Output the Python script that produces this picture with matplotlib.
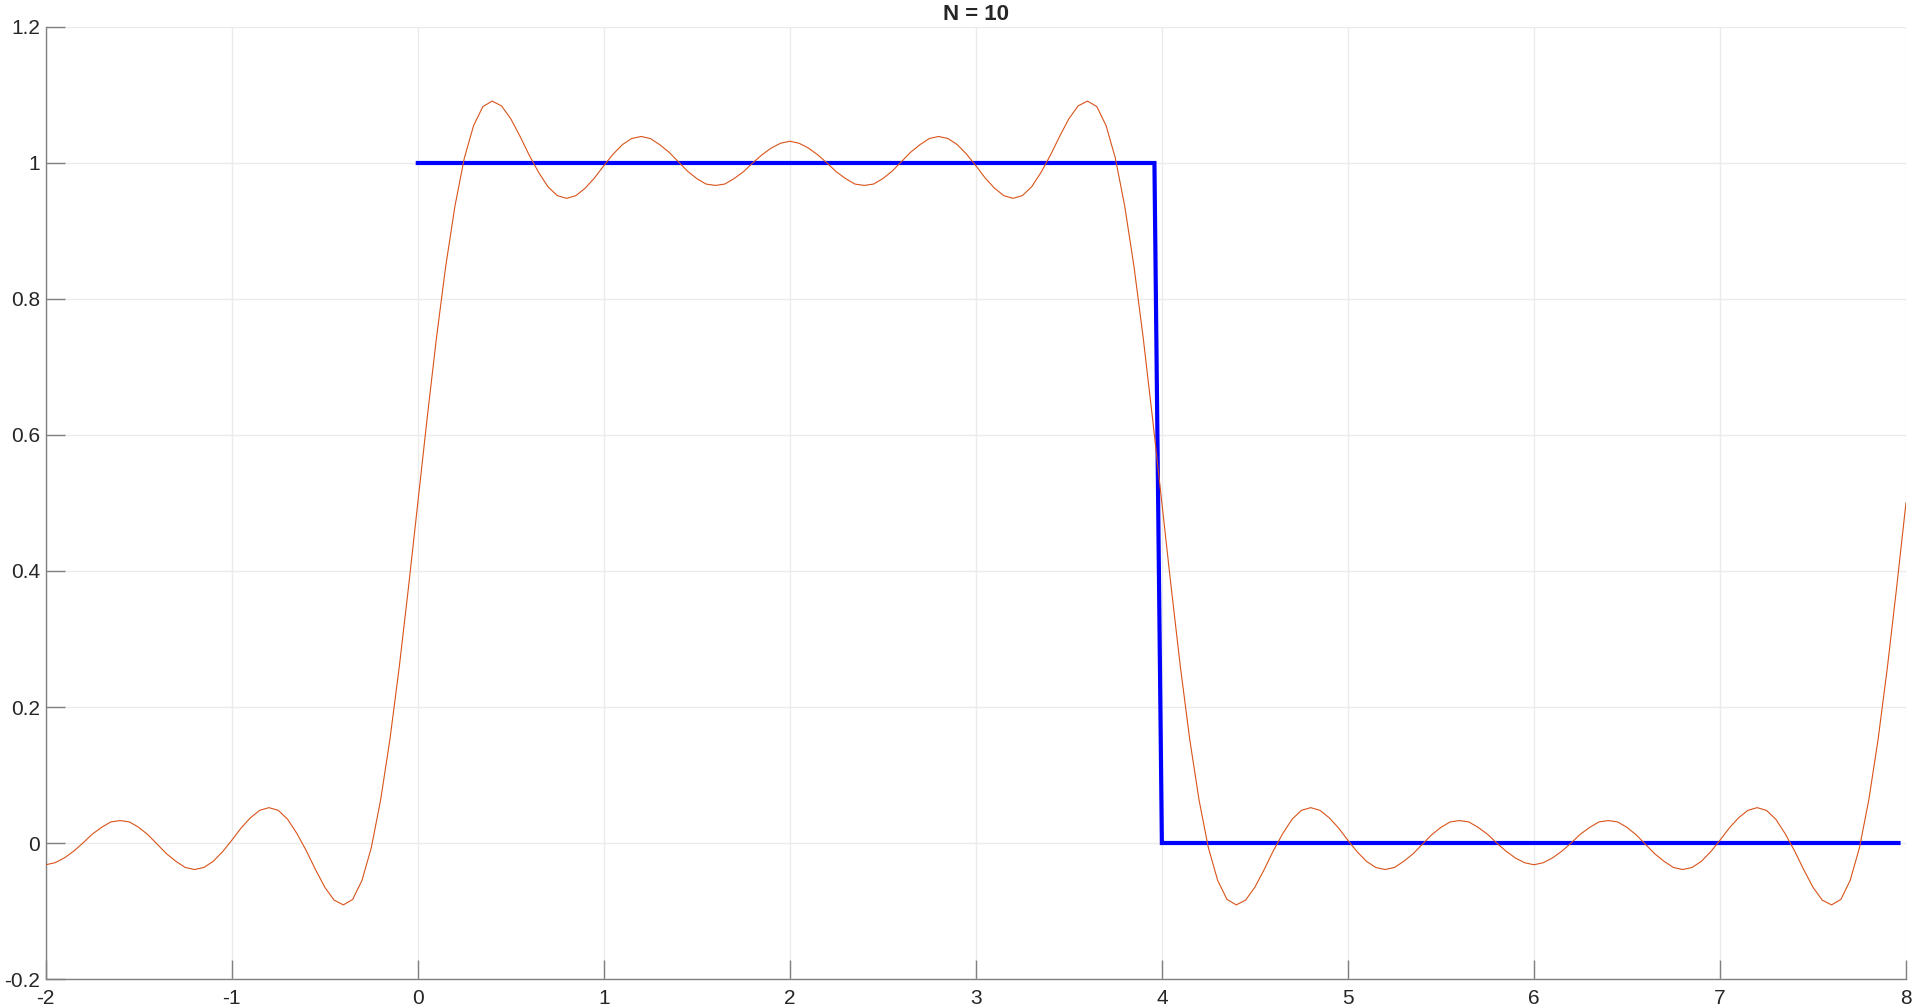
import numpy as np
import matplotlib
matplotlib.use("Agg")
import matplotlib.pyplot as plt

# ---- data ----
# square wave (blue), breakpoints
square_x = [0.0, 3.96, 4.0, 7.96]
square_y = [1.0, 1.0, 0.0, 0.0]

# partial Fourier sum (orange), sampled every 0.05 from x=-2 to x=8
approx_x = np.linspace(-2, 8, 201)
approx_y = [
    # -2.00 .. -0.05
    -0.032, -0.029, -0.022, -0.012, 0.000, 0.013, 0.023, 0.031, 0.033, 0.031,
    0.023, 0.012, -0.002, -0.016, -0.027, -0.036, -0.039, -0.036, -0.027, -0.013,
    0.004, 0.022, 0.037, 0.048, 0.052, 0.048, 0.035, 0.014, -0.011, -0.039,
    -0.065, -0.084, -0.091, -0.083, -0.055, -0.007, 0.063, 0.152, 0.258, 0.376,
    # 0.00 .. 2.00
    0.500, 0.624, 0.742, 0.848, 0.937, 1.007, 1.055, 1.083, 1.091, 1.084,
    1.065, 1.039, 1.011, 0.986, 0.965, 0.952, 0.948, 0.952, 0.963, 0.978,
    0.996, 1.013, 1.027, 1.036, 1.039, 1.036, 1.027, 1.016, 1.002, 0.988,
    0.977, 0.969, 0.967, 0.969, 0.977, 0.987, 1.000, 1.012, 1.022, 1.029,
    1.032,
    # 2.05 .. 4.00
    1.029, 1.022, 1.012, 1.000, 0.987, 0.977, 0.969, 0.967, 0.969, 0.977,
    0.988, 1.002, 1.016, 1.027, 1.036, 1.039, 1.036, 1.027, 1.013, 0.996,
    0.978, 0.963, 0.952, 0.948, 0.952, 0.965, 0.986, 1.011, 1.039, 1.065,
    1.084, 1.091, 1.083, 1.055, 1.007, 0.937, 0.848, 0.742, 0.624, 0.500,
    # 4.05 .. 6.00
    0.376, 0.258, 0.152, 0.063, -0.007, -0.055, -0.083, -0.091, -0.084, -0.065,
    -0.039, -0.011, 0.014, 0.035, 0.048, 0.052, 0.048, 0.037, 0.022, 0.004,
    -0.013, -0.027, -0.036, -0.039, -0.036, -0.027, -0.016, -0.002, 0.012, 0.023,
    0.031, 0.033, 0.031, 0.023, 0.013, 0.000, -0.012, -0.022, -0.029, -0.032,
    # 6.05 .. 8.00
    -0.029, -0.022, -0.012, 0.000, 0.013, 0.023, 0.031, 0.033, 0.031, 0.023,
    0.012, -0.002, -0.016, -0.027, -0.036, -0.039, -0.036, -0.027, -0.013, 0.004,
    0.022, 0.037, 0.048, 0.052, 0.048, 0.035, 0.014, -0.011, -0.039, -0.065,
    -0.084, -0.091, -0.083, -0.055, -0.007, 0.063, 0.152, 0.258, 0.376, 0.500,
]

x_ticks = [-2, -1, 0, 1, 2, 3, 4, 5, 6, 7, 8]
x_ticklabels = ["-2", "-1", "0", "1", "2", "3", "4", "5", "6", "7", "8"]
y_ticks = [-0.2, 0, 0.2, 0.4, 0.6, 0.8, 1.0, 1.2]
y_ticklabels = ["-0.2", "0", "0.2", "0.4", "0.6", "0.8", "1", "1.2"]
title_text = "N = 10"

# ---- figure ----
plt.rcParams["font.family"] = ["Liberation Sans", "DejaVu Sans"]
fig = plt.figure(figsize=(19.14, 10.07), dpi=100)
ax = fig.add_axes([0.0239, 0.0278, 0.9719, 0.9454])

ax.plot(square_x, square_y, color="#0000FF", linewidth=3.0, zorder=3,
        solid_joinstyle="miter")
ax.plot(approx_x, approx_y, color="#D95319", linewidth=0.8, zorder=4,
        solid_joinstyle="round")

ax.set_xlim(-2, 8)
ax.set_ylim(-0.2, 1.2)
ax.set_xticks(x_ticks)
ax.set_xticklabels(x_ticklabels)
ax.set_yticks(y_ticks)
ax.set_yticklabels(y_ticklabels)

ax.grid(True, color="#EBEBEB", linewidth=1.0, zorder=0)
ax.set_axisbelow(True)

for side in ["top", "right"]:
    ax.spines[side].set_visible(False)
for side in ["left", "bottom"]:
    ax.spines[side].set_color("#808080")
    ax.spines[side].set_linewidth(1.0)

ax.tick_params(axis="both", direction="in", length=13.5, width=1.0,
               color="#808080", labelcolor="#262626", labelsize=15)
ax.tick_params(axis="x", pad=7)
ax.tick_params(axis="y", pad=4)

ax.set_title(title_text, fontsize=16, fontweight="bold", color="#262626", pad=5)

fig.savefig("out.png", dpi=100, facecolor="white")
